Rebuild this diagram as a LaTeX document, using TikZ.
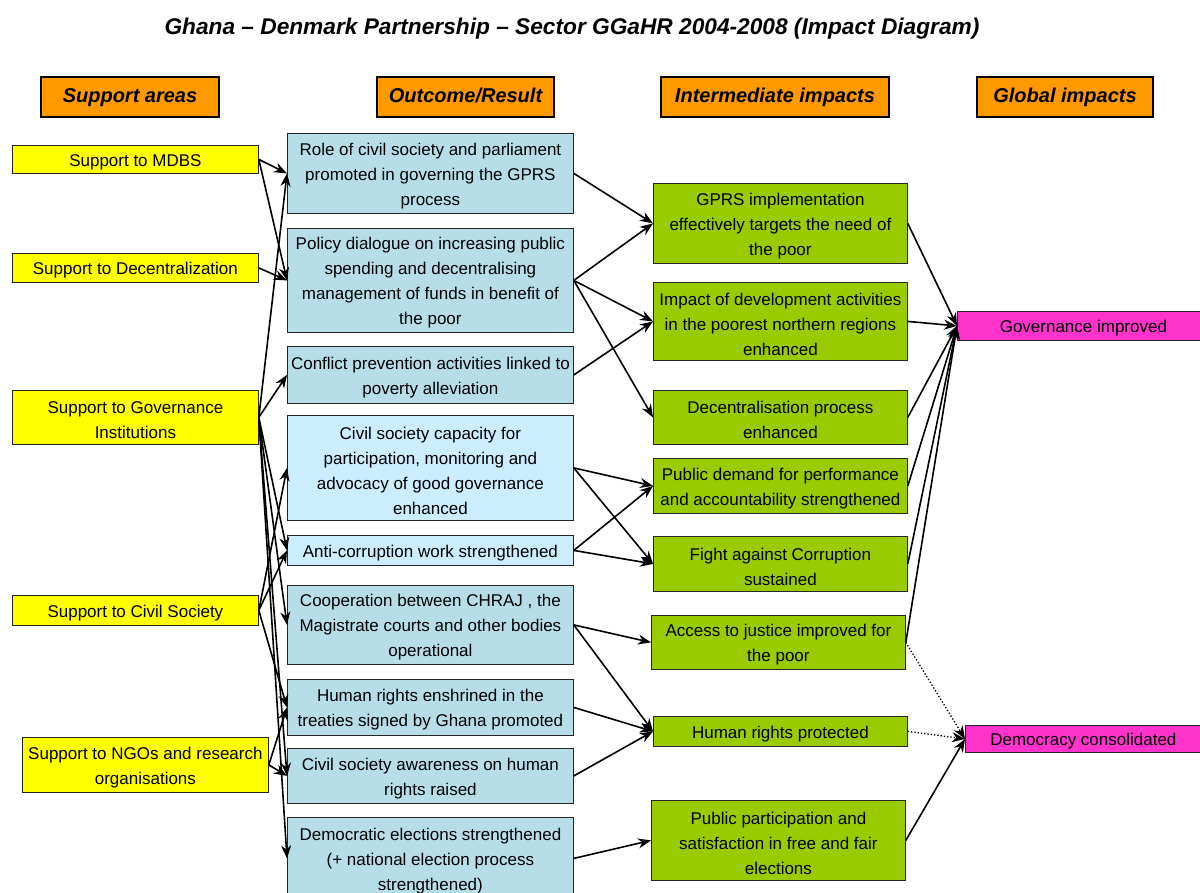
\documentclass[tikz,border=0pt]{standalone}
\usepackage{fontspec}
\setmainfont{Liberation Sans}
\usetikzlibrary{arrows.meta}
\definecolor{areayellow}{HTML}{FFFF00}
\definecolor{outteal}{HTML}{B7DEE8}
\definecolor{outblue}{HTML}{CCECFF}
\definecolor{midgreen}{HTML}{99CC00}
\definecolor{globpink}{HTML}{FF33CC}
\definecolor{headorange}{HTML}{FF9900}
% taller first line, so the text sits a little low in its box
\newcommand{\topstrut}{\rule{0pt}{17.5pt}}
\tikzset{
    impact diagram/.style = {x=1pt, y=-1pt, >={Stealth[length=13pt, width=10pt]}},
    line/.style     = {line width=1.6pt},
    weak line/.style = {line width=1.3pt, dotted},
    box/.style      = {draw=black!85, line width=0.8pt, anchor=north west,
                       align=center, inner sep=0pt,
                       font=\fontsize{17}{25}\selectfont},
    area/.style     = {box, fill=areayellow, minimum width=246pt},
    outcome/.style  = {box, fill=outteal, minimum width=286pt},
    civic/.style    = {box, fill=outblue, minimum width=286pt},
    impact/.style   = {box, fill=midgreen, minimum width=254pt},
    global/.style   = {box, fill=globpink},
    header/.style   = {draw, line width=2pt, fill=headorange, anchor=north west,
                       minimum height=40pt, inner sep=0pt,
                       text height=14.5pt, text depth=4.5pt,
                       font=\fontsize{20}{24}\selectfont\bfseries\itshape},
    title/.style    = {font=\fontsize{22.7}{27}\selectfont\bfseries\itshape}
}
\begin{document}
\begin{tikzpicture}[impact diagram]
\fill[white] (0,0) rectangle (1200,892);
\useasboundingbox (0,0) rectangle (1200,892);

\node[title] (title) at (572,29)
    {Ghana – Denmark Partnership – Sector GGaHR 2004-2008 (Impact Diagram)};

% Column headers
\node[header, minimum width=178pt] (hA) at (40,76)  {Support areas};
\node[header, minimum width=177pt] (hO) at (376,76) {Outcome/Result};
\node[header, minimum width=228pt] (hI) at (660,76) {Intermediate impacts};
\node[header, minimum width=176pt] (hG) at (976,76) {Global impacts};

% Support areas
\node[area, minimum height=28pt] (S1) at (12,145) {\topstrut Support to MDBS};
\node[area, minimum height=29pt] (S2) at (12,253) {\topstrut Support to Decentralization};
\node[area, minimum height=54pt] (S3) at (12,390) {\topstrut Support to Governance\\Institutions};
\node[area, minimum height=30pt] (S4) at (12,595) {\topstrut Support to Civil Society};
\node[area, minimum height=55pt] (S5) at (22,737) {\topstrut Support to NGOs and research\\organisations};

% Outcomes
\node[outcome, minimum height=80pt] (O1) at (287,133)
    {\topstrut Role of civil society and parliament\\promoted in governing the GPRS\\process};
\node[outcome, minimum height=104pt] (O2) at (287,228)
    {\topstrut Policy dialogue on increasing public\\spending and decentralising\\management of funds in benefit of\\the poor};
\node[outcome, minimum height=57pt] (O3) at (287,346)
    {\topstrut Conflict prevention activities linked to\\poverty alleviation};
\node[civic, minimum height=105pt] (O4) at (287,415)
    {\topstrut Civil society capacity for\\participation, monitoring and\\advocacy of good governance\\enhanced};
\node[civic, minimum height=30pt] (O5) at (287,535)
    {\topstrut Anti-corruption work strengthened};
\node[outcome, minimum height=79pt] (O6) at (287,585)
    {\topstrut Cooperation between CHRAJ , the\\Magistrate courts and other bodies\\operational};
\node[outcome, minimum height=56pt] (O7) at (287,679)
    {\topstrut Human rights enshrined in the\\treaties signed by Ghana promoted};
\node[outcome, minimum height=55pt] (O8) at (287,748)
    {\topstrut Civil society awareness on human\\rights raised};
\node[outcome, minimum height=82pt] (O9) at (287,817)
    {\topstrut Democratic elections strengthened\\(+ national election process\\strengthened)};

% Intermediate impacts
\node[impact, minimum height=80pt] (I1) at (653,183)
    {\topstrut GPRS implementation\\effectively targets the need of\\the poor};
\node[impact, minimum height=78pt] (I2) at (653,282)
    {\topstrut Impact of development activities\\in the poorest northern regions\\enhanced};
\node[impact, minimum height=54pt] (I3) at (653,390)
    {\topstrut Decentralisation process\\enhanced};
\node[impact, minimum height=55pt] (I4) at (653,458)
    {\topstrut Public demand for performance\\and accountability strengthened};
\node[impact, minimum height=55pt] (I5) at (653,536)
    {\topstrut Fight against Corruption\\sustained};
\node[impact, minimum height=54pt] (I6) at (651,615)
    {\topstrut Access to justice improved for\\the poor};
\node[impact, minimum height=30pt] (I7) at (653,716)
    {\topstrut Human rights protected};
\node[impact, minimum height=80pt] (I8) at (651,800)
    {\topstrut Public participation and\\satisfaction in free and fair\\elections};

% Global impacts
\node[global, minimum width=252pt, minimum height=29pt] (G1) at (957,311)
    {\topstrut Governance improved};
\node[global, minimum width=236pt, minimum height=27pt] (G2) at (965,725)
    {\topstrut Democracy consolidated};

% Support areas -> outcomes
\foreach \s/\o in {S1/O1, S1/O2, S2/O2, S3/O1, S3/O3, S3/O5, S3/O6, S3/O8,
                   S3/O9, S4/O4, S4/O5, S4/O7, S5/O7, S5/O8}
    \draw[->, line] (\s.east) -- (\o.west);

% Outcomes -> intermediate impacts
\foreach \o/\i in {O1/I1, O2/I1, O2/I2, O2/I3, O3/I2, O4/I4, O4/I5, O5/I4,
                   O5/I5, O6/I6, O6/I7, O7/I7, O8/I7, O9/I8}
    \draw[->, line] (\o.east) -- (\i.west);

% Intermediate -> global impacts
\foreach \i in {1,...,6}
    \draw[->, line] (I\i.east) -- (G1.west);
\foreach \i in {6,7}
    \draw[->, weak line] (I\i.east) -- (G2.west);
\draw[->, line] (I8.east) -- (G2.west);

\end{tikzpicture}
\end{document}
